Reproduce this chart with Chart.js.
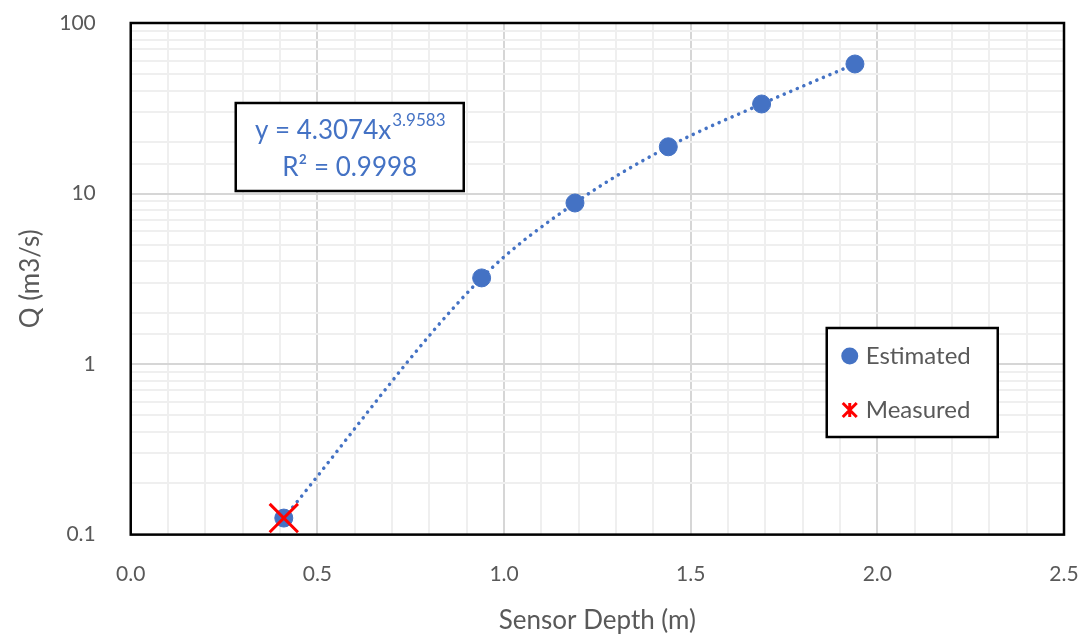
<!DOCTYPE html>
<html>
<head>
<meta charset="utf-8">
<script src="https://cdn.jsdelivr.net/npm/chart.js@4.4.0/dist/chart.umd.min.js"></script>
<style>
  html, body { margin: 0; padding: 0; background: #fff; }
  #wrap { width: 1087px; height: 639px; }
</style>
</head>
<body>
<div id="wrap"><canvas id="chart"></canvas></div>
<script>
// datos
const estX = [0.41, 0.94, 1.19, 1.44, 1.69, 1.94];
const estY = [0.125, 3.2, 8.8, 18.8, 33.5, 57.5];
const measX = [0.41];
const measY = [0.125];
const xTicks = [0.0, 0.5, 1.0, 1.5, 2.0, 2.5];
const yTicks = [0.1, 1, 10, 100];

const BLUE = '#4472C4';
const GREY = '#595959';
const FONT = 'Lato, "Open Sans", sans-serif';

const toPts = (xs, ys) => xs.map((x, i) => ({ x: x, y: ys[i] }));

// marco negro del area de trazado
const frame = {
    id: 'frame',
    afterDatasetsDraw(chart) {
        const { ctx, chartArea: a } = chart;
        ctx.save();
        ctx.strokeStyle = '#000';
        ctx.lineWidth = 2.5;
        ctx.strokeRect(a.left, a.top, a.right - a.left, a.bottom - a.top);
        ctx.restore();
    }
};

// cuadro con la ecuacion y la leyenda
const boxes = {
    id: 'boxes',
    afterDraw(chart) {
        const { ctx, chartArea: a } = chart;
        ctx.save();

        // ecuacion
        let bx = a.left + 105, by = a.top + 80, bw = 228, bh = 88;
        ctx.fillStyle = '#fff';
        ctx.fillRect(bx, by, bw, bh);
        ctx.strokeStyle = '#000';
        ctx.lineWidth = 2.5;
        ctx.strokeRect(bx, by, bw, bh);
        ctx.fillStyle = BLUE;
        ctx.textBaseline = 'middle';
        const main = 'y = 4.3074x';
        ctx.font = '26px ' + FONT;
        const mw = ctx.measureText(main).width;
        ctx.font = '17px ' + FONT;
        const sw = ctx.measureText('3.9583').width;
        const tx = bx + (bw - mw - sw) / 2;
        ctx.font = '26px ' + FONT;
        ctx.textAlign = 'left';
        ctx.fillText(main, tx, by + 28);
        ctx.font = '17px ' + FONT;
        ctx.fillText('3.9583', tx + mw + 1, by + 18);
        ctx.font = '26px ' + FONT;
        ctx.textAlign = 'center';
        ctx.fillText('R\u00B2 = 0.9998', bx + bw / 2, by + 65);

        // leyenda
        bx = a.left + 696; by = a.top + 305; bw = 171; bh = 109;
        ctx.fillStyle = '#fff';
        ctx.fillRect(bx, by, bw, bh);
        ctx.strokeRect(bx, by, bw, bh);
        ctx.font = '24px ' + FONT;
        ctx.textAlign = 'left';
        ctx.fillStyle = GREY;
        ctx.fillText('Estimated', bx + 39, by + 28);
        ctx.fillText('Measured', bx + 39, by + 82);
        ctx.fillStyle = BLUE;
        ctx.beginPath();
        ctx.arc(bx + 23, by + 28, 8.5, 0, Math.PI * 2);
        ctx.fill();
        // estrella roja
        const cx = bx + 23, cy = by + 82, r = 7;
        ctx.strokeStyle = '#FF0000';
        ctx.lineWidth = 3;
        ctx.beginPath();
        ctx.moveTo(cx - r, cy - r); ctx.lineTo(cx + r, cy + r);
        ctx.moveTo(cx + r, cy - r); ctx.lineTo(cx - r, cy + r);
        ctx.moveTo(cx, cy - r); ctx.lineTo(cx, cy + r);
        ctx.stroke();

        ctx.restore();
    }
};

new Chart(document.getElementById('chart'), {
    type: 'scatter',
    data: {
        datasets: [
            {
                label: 'Measured',
                data: toPts(measX, measY),
                pointStyle: 'crossRot',
                pointRadius: 20,
                pointBorderColor: '#FF0000',
                pointBorderWidth: 3,
                order: 0
            },
            {
                label: 'Estimated',
                data: toPts(estX, estY),
                pointRadius: 9,
                pointBackgroundColor: BLUE,
                pointBorderColor: BLUE,
                order: 1
            },
            {
                label: 'Trend',
                data: toPts(estX, estY),
                showLine: true,
                pointRadius: 0,
                borderColor: BLUE,
                borderWidth: 3.5,
                borderDash: [0.1, 7],
                borderCapStyle: 'round',
                cubicInterpolationMode: 'monotone',
                order: 2
            }
        ]
    },
    options: {
        responsive: true,
        maintainAspectRatio: false,
        animation: false,
        layout: { padding: { top: 20, right: 23, left: 15, bottom: 3 } },
        plugins: { legend: { display: false }, tooltip: { enabled: false } },
        scales: {
            x: {
                type: 'linear',
                min: 0,
                max: 2.5,
                ticks: {
                    stepSize: 0.1,
                    autoSkip: false,
                    maxRotation: 0,
                    padding: 5,
                    color: GREY,
                    font: { family: FONT, size: 21 },
                    callback: v => {
                        const t = Math.round(v * 10);
                        return t % 5 === 0 && xTicks.includes(t / 10) ? (t / 10).toFixed(1) : '';
                    }
                },
                grid: {
                    drawTicks: true,
                    tickLength: 22,
                    tickColor: 'rgba(0,0,0,0)',
                    lineWidth: 2,
                    color: c => Math.round(c.tick.value * 10) % 5 === 0 ? '#d6d6d6' : '#efefef'
                },
                border: { display: false },
                title: {
                    display: true,
                    text: 'Sensor Depth (m)',
                    color: GREY,
                    font: { family: FONT, size: 26 },
                    padding: { top: 13, bottom: 0 }
                }
            },
            y: {
                type: 'logarithmic',
                min: 0.1,
                max: 100,
                ticks: {
                    autoSkip: false,
                    padding: 5,
                    color: GREY,
                    font: { family: FONT, size: 21 },
                    callback: v => {
                        const hit = yTicks.find(t => Math.abs(t - v) < t * 1e-6);
                        return hit !== undefined ? String(hit) : '';
                    }
                },
                grid: {
                    drawTicks: true,
                    tickLength: 30,
                    tickColor: 'rgba(0,0,0,0)',
                    lineWidth: 2,
                    color: c => yTicks.some(t => Math.abs(t - c.tick.value) < t * 1e-6) ? '#d6d6d6' : '#efefef'
                },
                border: { display: false },
                title: {
                    display: true,
                    text: 'Q (m3/s)',
                    color: GREY,
                    font: { family: FONT, size: 26 },
                    padding: { top: 0, bottom: 8 }
                }
            }
        }
    },
    plugins: [frame, boxes]
});
</script>
</body>
</html>
